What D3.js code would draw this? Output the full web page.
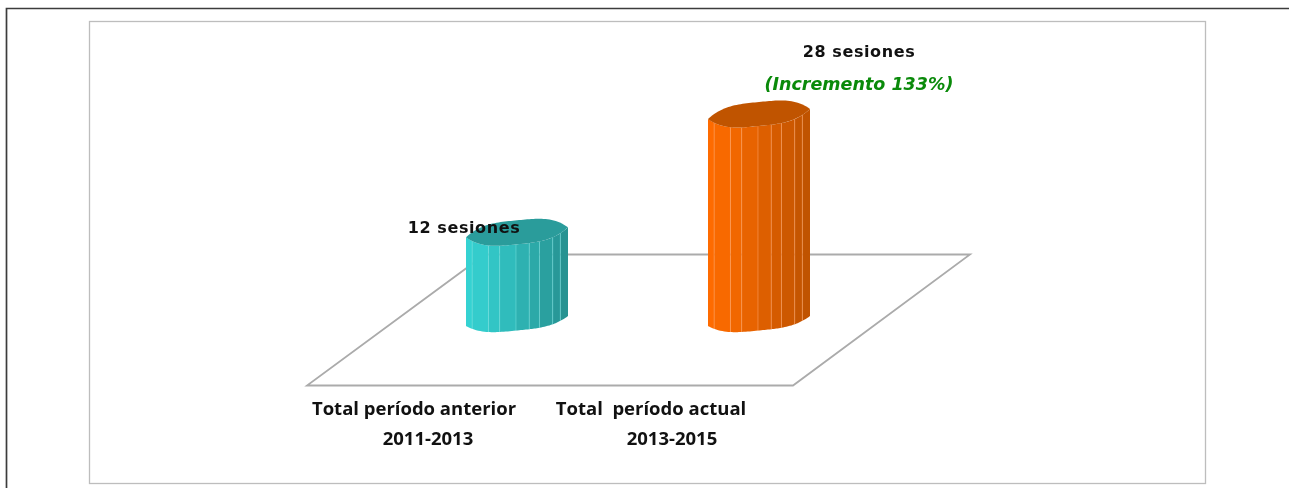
<!DOCTYPE html>
<html lang="es">
<head>
<meta charset="utf-8">
<title>Sesiones por periodo</title>
<script src="https://d3js.org/d3.v7.min.js"></script>
<style>
  html, body { margin: 0; padding: 0; background: #fff; overflow: hidden; }
  svg { display: block; filter: blur(0.4px); }
  text { font-family: "DejaVu Sans", sans-serif; font-weight: bold; fill: #111; }
  .cat { font-family: "Open Sans", sans-serif; font-size: 18.5px; }
</style>
</head>
<body>
<script>
// data
const categories = ["Total período anterior", "Total  período actual"];
const periods = ["2011-2013", "2013-2015"];
const sessions = [12, 28];
const valueLabels = ["12 sesiones", "28 sesiones"];
const increaseLabel = "(Incremento 133%)";

const w = 1289, h = 488;

const svg = d3.select("body").append("svg").attr("width", w).attr("height", h);

// outer and inner frames
svg.append("path").attr("d", "M6.5,488V8.5H1289").attr("fill", "none").attr("stroke", "#3c3c3c").attr("stroke-width", 1.7);
svg.append("rect").attr("x", 89.5).attr("y", 21.5).attr("width", 1116).attr("height", 462)
  .attr("fill", "#fff").attr("stroke", "#bdbdbd").attr("stroke-width", 1.3);

// scales
const x = d3.scalePoint().domain(categories).range([517, 759]);
const y = d3.scaleLinear().domain([0, 28]).range([326, 119]);

// floor
svg.append("path").attr("d", "M307,385.5H793L970,254.5H485Z")
  .attr("fill", "#fff").attr("stroke", "#ababab").attr("stroke-width", 1.8);

// facet edges across the cylinder width, these are part of the look not the data
const facetEdges = [0, .06, .22, .33, .49, .62, .72, .85, .925, 1];
const rx = 51, ryTop = 12, ryBottom = 9.5, shear = 5;

// y offset of the rim at a position u (0..1) across the width, blunter than an ellipse
function rim(u, ry, front) {
  const c = 2 * u - 1;
  const s = Math.max(0, 1 - Math.pow(Math.abs(c), 3.5));
  return -c * shear + (front ? 1 : -1) * ry * s;
}

const themes = [
  { left: "#35d3d3", right: "#26908f", top: "#2a9c9b", line: "#6fe0df" },
  { left: "#ff6c00", right: "#bd5200", top: "#c05400", line: "#ffa060" }
];

const bars = svg.selectAll("g.bar").data(sessions).enter().append("g").attr("class", "bar");

bars.each(function (d, i) {
  const g = d3.select(this);
  const cx = x(categories[i]);
  const yTop = y(d) - 5;
  const yBase = y(0) - 5;
  const th = themes[i];
  const color = d3.scaleLinear().domain([0, .3, 1]).range([th.left, d3.interpolateRgb(th.left, th.right)(.22), th.right]);

  // wall facets
  facetEdges.slice(0, -1).forEach((u0, k) => {
    const u1 = facetEdges[k + 1];
    const steps = d3.range(0, 1.001, .125).map(t => u0 + (u1 - u0) * t);
    const pts = steps.map(u => [cx - rx + 2 * rx * u, yTop + rim(u, ryTop, true)])
      .concat(steps.slice().reverse().map(u => [cx - rx + 2 * rx * u, yBase + rim(u, ryBottom, true)]));
    g.append("polygon")
      .attr("points", pts.map(p => p.join(",")).join(" "))
      .attr("fill", color((u0 + u1) / 2));
    if (k > 0) {
      g.append("line")
        .attr("x1", cx - rx + 2 * rx * u0).attr("x2", cx - rx + 2 * rx * u0)
        .attr("y1", yTop + rim(u0, ryTop, true)).attr("y2", yBase + rim(u0, ryBottom, true))
        .attr("stroke", th.line).attr("stroke-width", 1).attr("stroke-opacity", .55);
    }
  });

  // top cap
  const us = d3.range(0, 1.001, .02);
  const cap = us.map(u => [cx - rx + 2 * rx * u, yTop + rim(u, ryTop, true)])
    .concat(us.slice().reverse().map(u => [cx - rx + 2 * rx * u, yTop + rim(u, ryTop, false)]));
  g.append("polygon").attr("points", cap.map(p => p.join(",")).join(" ")).attr("fill", th.top);
});

// value labels
svg.append("text").attr("x", 464).attr("y", 233).attr("text-anchor", "middle")
  .style("font-size", "16px").style("letter-spacing", ".6px").text(valueLabels[0]);
svg.append("text").attr("x", 859).attr("y", 57).attr("text-anchor", "middle")
  .style("font-size", "16px").style("letter-spacing", ".6px").text(valueLabels[1]);
svg.append("text").attr("x", 859).attr("y", 90).attr("text-anchor", "middle")
  .style("font-size", "17.5px").style("font-style", "italic").style("fill", "#0a8a0a").text(increaseLabel);

// category labels, two lines
svg.selectAll("text.cat1").data(categories).enter().append("text").attr("class", "cat cat1")
  .attr("x", (d, i) => x(d) + (i ? -108 : -103)).attr("y", 415).attr("text-anchor", "middle").text(d => d)
  .attr("xml:space", "preserve");
svg.selectAll("text.cat2").data(periods).enter().append("text").attr("class", "cat cat2")
  .attr("x", (d, i) => x(categories[i]) + (i ? -87 : -89)).attr("y", 445).attr("text-anchor", "middle").text(d => d);
</script>
</body>
</html>
